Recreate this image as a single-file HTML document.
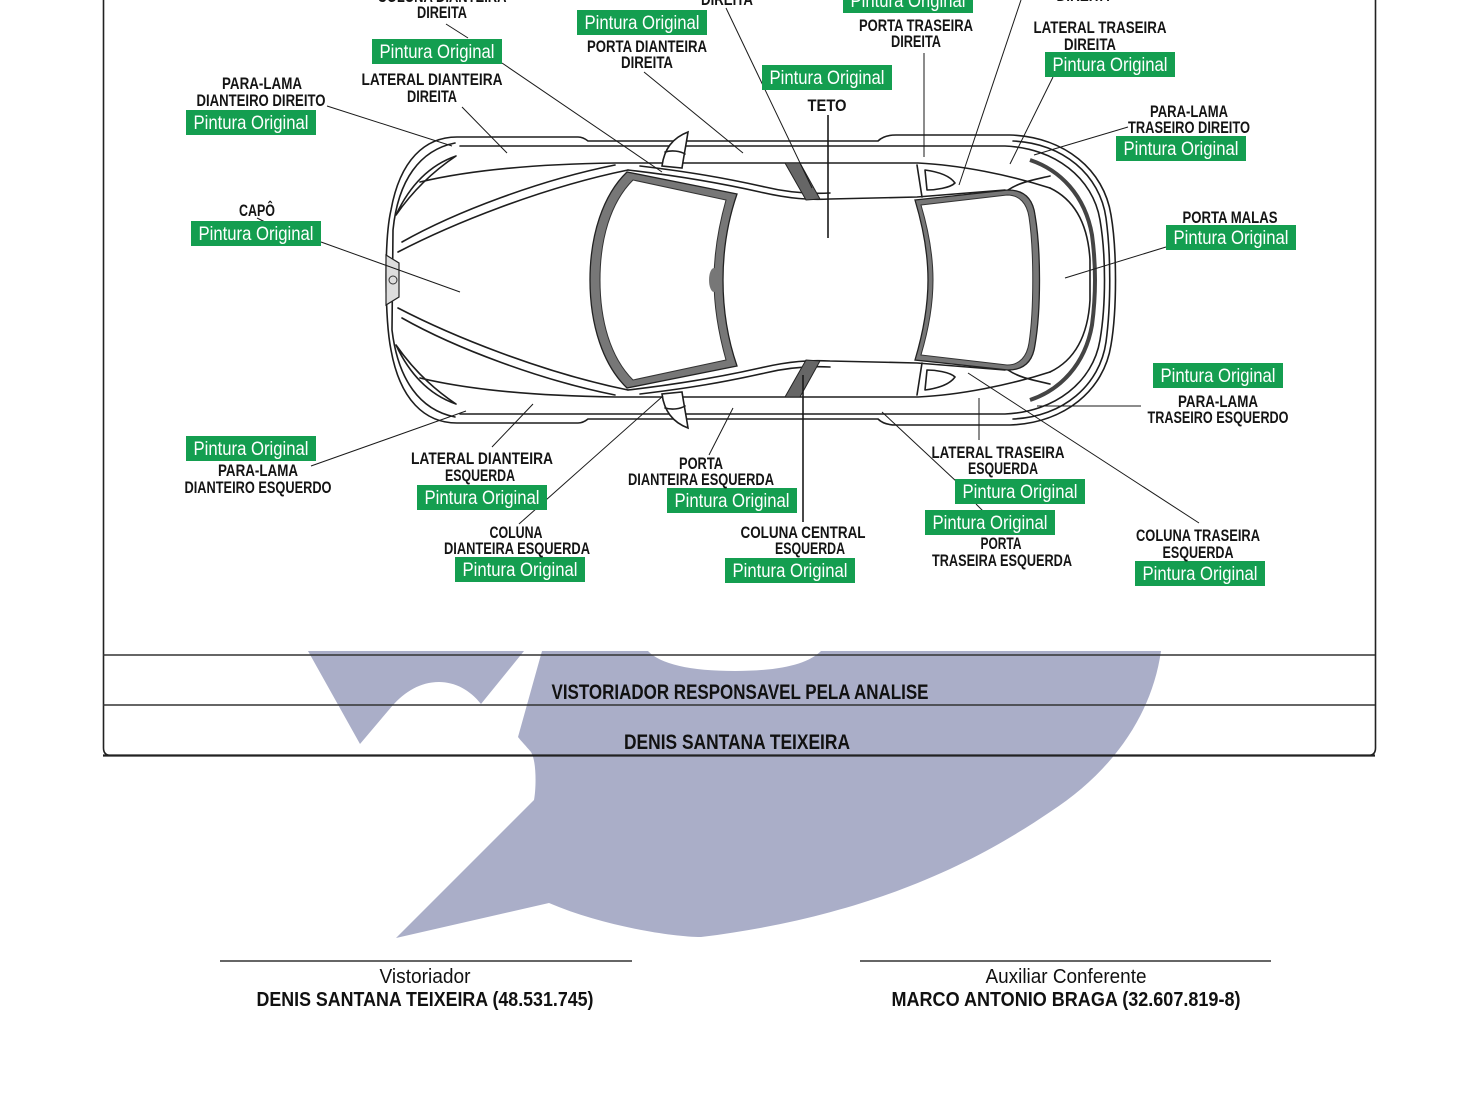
<!DOCTYPE html>
<html>
<head>
<meta charset="utf-8">
<style>
  html,body{margin:0;padding:0;background:#fff;}
  svg{display:block;}
  .lbl{font-family:"Liberation Sans",Arial,sans-serif;font-weight:bold;font-size:17px;fill:#141414;}
  .gt{font-family:"Liberation Sans",Arial,sans-serif;font-size:19px;fill:#fff;}
  .gb{fill:#149e50;}
  .ld{stroke:#1a1a1a;stroke-width:1;fill:none;}
  .car{stroke:#1e1e1e;stroke-width:1.6;fill:none;stroke-linejoin:round;stroke-linecap:round;}
  .carw{stroke:#1e1e1e;stroke-width:1.6;fill:#fff;}
  .big{font-family:"Liberation Sans",Arial,sans-serif;font-weight:bold;font-size:21px;fill:#111;}
  .sig{font-family:"Liberation Sans",Arial,sans-serif;font-size:20px;fill:#111;}
  .sigb{font-family:"Liberation Sans",Arial,sans-serif;font-weight:bold;font-size:20px;fill:#111;}
</style>
</head>
<body>
<svg width="1460" height="1100" viewBox="0 0 1460 1100" xmlns="http://www.w3.org/2000/svg">
  <rect x="0" y="0" width="1460" height="1100" fill="#fff"/>

  <!-- ============ WATERMARK ============ -->
  <g fill="#aaaec8">
    <path d="M 308,651 L 524,651 L 481,704 C 470,690 455,682 439,682 C 420,682 405,692 393,705 L 360,744 Z"/>
    <path d="M 542,651 L 648,651 C 660,664 690,671 735,671 C 780,671 808,664 821,651 L 1161,651
             C 1152,715 1112,772 1050,812 C 985,856 880,915 701,937
             C 670,937 600,925 549,903 L 396,938 L 534,800
             C 536,790 537,762 531,752 C 526,746 521,741 518,737 Z"/>
  </g>

  <!-- ============ FRAME ============ -->
  <path d="M 103.5,0 L 103.5,748 Q 103.5,755.5 111,755.5 L 1368,755.5 Q 1375.5,755.5 1375.5,748 L 1375.5,0" fill="none" stroke="#222" stroke-width="1.6"/>
  <line x1="103" y1="755.5" x2="1375" y2="755.5" stroke="#222" stroke-width="2.2"/>
  <line x1="103" y1="655" x2="1375" y2="655" stroke="#333" stroke-width="1.5"/>
  <line x1="103" y1="705" x2="1375" y2="705" stroke="#333" stroke-width="1.5"/>

  <text class="big" x="740" y="699" text-anchor="middle" textLength="377" lengthAdjust="spacingAndGlyphs">VISTORIADOR RESPONSAVEL PELA ANALISE</text>
  <text class="big" x="737" y="749" text-anchor="middle" textLength="226" lengthAdjust="spacingAndGlyphs">DENIS SANTANA TEIXEIRA</text>

  <!-- ============ CAR ============ -->
  <path class="carw" d="M 457,137 L 578,137 Q 583,137 588,141 L 878,141 Q 884,135 896,135 L 1010,135
      C 1065,137 1104,170 1111,215 C 1117,250 1117,310 1111,345 C 1104,390 1065,423 1010,425
      L 896,425 Q 884,425 878,419 L 588,419 Q 583,423 578,423 L 457,423
      C 425,423 400,400 391,350 C 385,320 384,240 391,210 C 400,160 425,137 457,137 Z"/>
  <path class="car" d="M 460,146 L 1005,146 C 1055,148 1093,178 1100,220 C 1106,255 1106,305 1100,340 C 1093,382 1055,412 1005,414 L 460,414" stroke-width="1.3"/>
  <path class="car" d="M 1013,141 C 1063,143 1100,175 1106,218 C 1111,255 1111,305 1106,342 C 1100,385 1063,417 1013,419" stroke-width="1.1"/>
  <path d="M 1030,160 C 1060,170 1085,195 1092,235 C 1096,265 1096,295 1092,325 C 1085,365 1060,390 1030,400" fill="none" stroke="#444" stroke-width="4"/>
  <path class="car" d="M 1050,188 C 1075,200 1088,225 1090,260 L 1090,300 C 1088,335 1075,360 1050,372" stroke-width="1.1"/>
  <path class="car" d="M 455,143 C 420,150 398,180 393,230 L 392,330 C 398,380 420,410 455,417" stroke-width="1.2"/>
  <path class="car" d="M 456,156 C 430,165 410,185 396,215 C 412,192 432,172 456,156 Z" stroke-width="1.3"/>
  <path class="car" d="M 456,404 C 430,395 410,375 396,345 C 412,368 432,388 456,404 Z" stroke-width="1.3"/>
  <path class="car" d="M 398,252 C 450,225 540,188 628,170"/>
  <path class="car" d="M 402,242 C 455,212 540,180 615,165"/>
  <path class="car" d="M 398,308 C 450,335 540,372 628,390"/>
  <path class="car" d="M 402,318 C 455,348 540,380 615,395"/>
  <path class="car" d="M 420,182 C 470,170 540,164 615,163 L 918,163 C 960,165 1010,175 1050,188"/>
  <path class="car" d="M 420,378 C 470,390 540,396 615,397 L 918,397 C 960,395 1010,385 1050,372"/>
  <path class="car" d="M 628,170 C 680,176 720,183 760,192 C 790,199 810,200 830,199 L 917,197 L 1005,190"/>
  <path class="car" d="M 640,166 C 690,172 725,178 765,187 C 790,193 810,194 830,193" stroke-width="1.1"/>
  <path class="car" d="M 628,390 C 680,384 720,377 760,368 C 790,361 810,360 830,361 L 917,363 L 1005,370"/>
  <path class="car" d="M 640,394 C 690,388 725,382 765,373 C 790,367 810,366 830,367" stroke-width="1.1"/>
  <path d="M 785,163 L 800,163 L 820,199 L 806,200 Z" fill="#666" stroke="#222" stroke-width="1"/>
  <path d="M 785,397 L 800,397 L 820,361 L 806,360 Z" fill="#666" stroke="#222" stroke-width="1"/>
  <path class="car" d="M 917,165 L 922,197"/>
  <path class="car" d="M 925,170 C 940,172 950,176 955,183 C 950,188 935,190 927,190 Z" stroke-width="1.2"/>
  <path class="car" d="M 917,395 L 922,363"/>
  <path class="car" d="M 925,390 C 940,388 950,384 955,377 C 950,372 935,370 927,370 Z" stroke-width="1.2"/>
  <path class="car" d="M 1008,190 C 1020,182 1033,180 1050,176" stroke-width="1.1"/>
  <path class="car" d="M 1008,370 C 1020,378 1033,380 1050,384" stroke-width="1.1"/>
  <path class="carw" d="M 662,166 C 664,150 672,138 688,132 C 686,145 684,155 682,168 Z" stroke-width="1.3"/>
  <path class="car" d="M 665,152 C 672,150 680,151 685,154" stroke-width="1"/>
  <path class="carw" d="M 662,394 C 664,410 672,422 688,428 C 686,415 684,405 682,392 Z" stroke-width="1.3"/>
  <path class="car" d="M 665,408 C 672,410 680,409 685,406" stroke-width="1"/>
  <!-- windshield -->
  <path d="M 627,172 C 603,195 590,235 590,280 C 590,325 603,365 627,388 L 737,366 C 728,340 723,310 723,280 C 723,250 728,220 737,194 Z" fill="#777" stroke="#222" stroke-width="1.3"/>
  <path d="M 633,180 C 610,203 600,240 600,280 C 600,320 610,357 633,380 L 726,360 C 719,335 714,308 714,280 C 714,252 719,225 726,200 Z" fill="#fff" stroke="#333" stroke-width="1"/>
  <ellipse cx="714" cy="280" rx="5" ry="12" fill="#777"/>
  <!-- rear window -->
  <path d="M 915,200 L 1008,190 C 1025,190 1033,200 1035,215 C 1041,250 1041,310 1035,345 C 1033,360 1025,370 1008,370 L 915,360 C 924,330 928,305 928,280 C 928,255 924,230 915,200 Z" fill="#777" stroke="#222" stroke-width="1.3"/>
  <path d="M 921,205 L 1007,195 C 1020,195 1027,204 1029,217 C 1034,250 1034,310 1029,343 C 1027,356 1020,365 1007,365 L 921,355 C 929,328 933,305 933,280 C 933,255 929,232 921,205 Z" fill="#fff" stroke="#333" stroke-width="1"/>
  <path d="M 386,255 L 399,263 L 399,297 L 386,305 Z" fill="#ddd" stroke="#222" stroke-width="1.2"/>
  <circle cx="393" cy="280" r="4" fill="none" stroke="#333" stroke-width="1"/>

  <!-- ============ LEADER LINES ============ -->
  <g class="ld">
    <line x1="446" y1="24" x2="468" y2="38"/>
    <line x1="502" y1="63" x2="662" y2="172"/>
    <line x1="327" y1="106" x2="452" y2="146"/>
    <line x1="462" y1="107" x2="507" y2="153"/>
    <line x1="644" y1="72" x2="743" y2="153"/>
    <line x1="726" y1="8" x2="812" y2="188"/>
    <line x1="828" y1="115" x2="828" y2="238" stroke-width="1.6"/>
    <line x1="924" y1="53" x2="924" y2="157"/>
    <line x1="1021" y1="0" x2="959" y2="185"/>
    <line x1="1053" y1="77" x2="1010" y2="164"/>
    <line x1="1128" y1="127" x2="1034" y2="155"/>
    <line x1="1166" y1="247" x2="1065" y2="278"/>
    <line x1="257" y1="218" x2="265" y2="222"/>
    <line x1="321" y1="242" x2="460" y2="292"/>
    <line x1="1037" y1="406" x2="1141" y2="406"/>
    <line x1="1199" y1="523" x2="968" y2="373"/>
    <line x1="979" y1="398" x2="979" y2="440"/>
    <line x1="882" y1="412" x2="957" y2="482"/>
    <line x1="976" y1="504" x2="983" y2="511"/>
    <line x1="803" y1="375" x2="803" y2="522" stroke-width="1.6"/>
    <line x1="733" y1="408" x2="709" y2="455"/>
    <line x1="519" y1="524" x2="663" y2="396"/>
    <line x1="492" y1="447" x2="533" y2="404"/>
    <line x1="311" y1="466" x2="466" y2="411"/>
  </g>

  <!-- ============ GREEN TAGS ============ -->
  <g>
    <rect class="gb" x="372" y="39" width="130" height="25"/><text class="gt" x="437" y="58" text-anchor="middle" textLength="115" lengthAdjust="spacingAndGlyphs">Pintura Original</text>
    <rect class="gb" x="186" y="110" width="130" height="25"/><text class="gt" x="251" y="129" text-anchor="middle" textLength="115" lengthAdjust="spacingAndGlyphs">Pintura Original</text>
    <rect class="gb" x="191" y="221" width="130" height="25"/><text class="gt" x="256" y="240" text-anchor="middle" textLength="115" lengthAdjust="spacingAndGlyphs">Pintura Original</text>
    <rect class="gb" x="577" y="10" width="130" height="25"/><text class="gt" x="642" y="29" text-anchor="middle" textLength="115" lengthAdjust="spacingAndGlyphs">Pintura Original</text>
    <rect class="gb" x="843" y="-12" width="130" height="25"/><text class="gt" x="908" y="7" text-anchor="middle" textLength="115" lengthAdjust="spacingAndGlyphs">Pintura Original</text>
    <rect class="gb" x="762" y="65" width="130" height="25"/><text class="gt" x="827" y="84" text-anchor="middle" textLength="115" lengthAdjust="spacingAndGlyphs">Pintura Original</text>
    <rect class="gb" x="1045" y="52" width="130" height="25"/><text class="gt" x="1110" y="71" text-anchor="middle" textLength="115" lengthAdjust="spacingAndGlyphs">Pintura Original</text>
    <rect class="gb" x="1116" y="136" width="130" height="25"/><text class="gt" x="1181" y="155" text-anchor="middle" textLength="115" lengthAdjust="spacingAndGlyphs">Pintura Original</text>
    <rect class="gb" x="1166" y="225" width="130" height="25"/><text class="gt" x="1231" y="244" text-anchor="middle" textLength="115" lengthAdjust="spacingAndGlyphs">Pintura Original</text>
    <rect class="gb" x="1153" y="363" width="130" height="25"/><text class="gt" x="1218" y="382" text-anchor="middle" textLength="115" lengthAdjust="spacingAndGlyphs">Pintura Original</text>
    <rect class="gb" x="955" y="479" width="130" height="25"/><text class="gt" x="1020" y="498" text-anchor="middle" textLength="115" lengthAdjust="spacingAndGlyphs">Pintura Original</text>
    <rect class="gb" x="925" y="510" width="130" height="25"/><text class="gt" x="990" y="529" text-anchor="middle" textLength="115" lengthAdjust="spacingAndGlyphs">Pintura Original</text>
    <rect class="gb" x="667" y="488" width="130" height="25"/><text class="gt" x="732" y="507" text-anchor="middle" textLength="115" lengthAdjust="spacingAndGlyphs">Pintura Original</text>
    <rect class="gb" x="725" y="558" width="130" height="25"/><text class="gt" x="790" y="577" text-anchor="middle" textLength="115" lengthAdjust="spacingAndGlyphs">Pintura Original</text>
    <rect class="gb" x="1135" y="561" width="130" height="25"/><text class="gt" x="1200" y="580" text-anchor="middle" textLength="115" lengthAdjust="spacingAndGlyphs">Pintura Original</text>
    <rect class="gb" x="186" y="436" width="130" height="25"/><text class="gt" x="251" y="455" text-anchor="middle" textLength="115" lengthAdjust="spacingAndGlyphs">Pintura Original</text>
    <rect class="gb" x="417" y="485" width="130" height="25"/><text class="gt" x="482" y="504" text-anchor="middle" textLength="115" lengthAdjust="spacingAndGlyphs">Pintura Original</text>
    <rect class="gb" x="455" y="557" width="130" height="25"/><text class="gt" x="520" y="576" text-anchor="middle" textLength="115" lengthAdjust="spacingAndGlyphs">Pintura Original</text>
  </g>

  <!-- ============ BLACK LABELS ============ -->
  <g class="lbl" text-anchor="middle">
    <text x="442" y="2" textLength="129" lengthAdjust="spacingAndGlyphs">COLUNA DIANTEIRA</text>
    <text x="442" y="18" textLength="50" lengthAdjust="spacingAndGlyphs">DIREITA</text>
    <text x="262" y="89" textLength="80" lengthAdjust="spacingAndGlyphs">PARA-LAMA</text>
    <text x="261" y="106" textLength="129" lengthAdjust="spacingAndGlyphs">DIANTEIRO DIREITO</text>
    <text x="432" y="85" textLength="141" lengthAdjust="spacingAndGlyphs">LATERAL DIANTEIRA</text>
    <text x="432" y="102" textLength="50" lengthAdjust="spacingAndGlyphs">DIREITA</text>
    <text x="257" y="216" textLength="36" lengthAdjust="spacingAndGlyphs">CAPÔ</text>
    <text x="647" y="52" textLength="120" lengthAdjust="spacingAndGlyphs">PORTA DIANTEIRA</text>
    <text x="647" y="68" textLength="52" lengthAdjust="spacingAndGlyphs">DIREITA</text>
    <text x="727" y="5" textLength="52" lengthAdjust="spacingAndGlyphs">DIREITA</text>
    <text x="916" y="31" textLength="114" lengthAdjust="spacingAndGlyphs">PORTA TRASEIRA</text>
    <text x="916" y="47" textLength="50" lengthAdjust="spacingAndGlyphs">DIREITA</text>
    <text x="827" y="111" textLength="39" lengthAdjust="spacingAndGlyphs">TETO</text>
    <text x="1100" y="33" textLength="133" lengthAdjust="spacingAndGlyphs">LATERAL TRASEIRA</text>
    <text x="1090" y="50" textLength="52" lengthAdjust="spacingAndGlyphs">DIREITA</text>
    <text x="1083" y="1" textLength="53" lengthAdjust="spacingAndGlyphs">DIREITA</text>
    <text x="1189" y="117" textLength="78" lengthAdjust="spacingAndGlyphs">PARA-LAMA</text>
    <text x="1189" y="133" textLength="122" lengthAdjust="spacingAndGlyphs">TRASEIRO DIREITO</text>
    <text x="1230" y="223" textLength="95" lengthAdjust="spacingAndGlyphs">PORTA MALAS</text>
    <text x="1218" y="407" textLength="80" lengthAdjust="spacingAndGlyphs">PARA-LAMA</text>
    <text x="1218" y="423" textLength="141" lengthAdjust="spacingAndGlyphs">TRASEIRO ESQUERDO</text>
    <text x="998" y="458" textLength="133" lengthAdjust="spacingAndGlyphs">LATERAL TRASEIRA</text>
    <text x="1003" y="474" textLength="70" lengthAdjust="spacingAndGlyphs">ESQUERDA</text>
    <text x="1001" y="549" textLength="41" lengthAdjust="spacingAndGlyphs">PORTA</text>
    <text x="1002" y="566" textLength="140" lengthAdjust="spacingAndGlyphs">TRASEIRA ESQUERDA</text>
    <text x="701" y="469" textLength="44" lengthAdjust="spacingAndGlyphs">PORTA</text>
    <text x="701" y="485" textLength="146" lengthAdjust="spacingAndGlyphs">DIANTEIRA ESQUERDA</text>
    <text x="803" y="538" textLength="125" lengthAdjust="spacingAndGlyphs">COLUNA CENTRAL</text>
    <text x="810" y="554" textLength="70" lengthAdjust="spacingAndGlyphs">ESQUERDA</text>
    <text x="1198" y="541" textLength="124" lengthAdjust="spacingAndGlyphs">COLUNA TRASEIRA</text>
    <text x="1198" y="558" textLength="71" lengthAdjust="spacingAndGlyphs">ESQUERDA</text>
    <text x="258" y="476" textLength="80" lengthAdjust="spacingAndGlyphs">PARA-LAMA</text>
    <text x="258" y="493" textLength="147" lengthAdjust="spacingAndGlyphs">DIANTEIRO ESQUERDO</text>
    <text x="482" y="464" textLength="142" lengthAdjust="spacingAndGlyphs">LATERAL DIANTEIRA</text>
    <text x="480" y="481" textLength="70" lengthAdjust="spacingAndGlyphs">ESQUERDA</text>
    <text x="516" y="538" textLength="53" lengthAdjust="spacingAndGlyphs">COLUNA</text>
    <text x="517" y="554" textLength="146" lengthAdjust="spacingAndGlyphs">DIANTEIRA ESQUERDA</text>
  </g>

  <!-- ============ SIGNATURES ============ -->
  <line x1="220" y1="961" x2="632" y2="961" stroke="#333" stroke-width="1.5"/>
  <line x1="860" y1="961" x2="1271" y2="961" stroke="#333" stroke-width="1.5"/>
  <text class="sig" x="425" y="983" text-anchor="middle" textLength="91" lengthAdjust="spacingAndGlyphs">Vistoriador</text>
  <text class="sigb" x="425" y="1006" text-anchor="middle" textLength="337" lengthAdjust="spacingAndGlyphs">DENIS SANTANA TEIXEIRA (48.531.745)</text>
  <text class="sig" x="1066" y="983" text-anchor="middle" textLength="161" lengthAdjust="spacingAndGlyphs">Auxiliar Conferente</text>
  <text class="sigb" x="1066" y="1006" text-anchor="middle" textLength="349" lengthAdjust="spacingAndGlyphs">MARCO ANTONIO BRAGA (32.607.819-8)</text>
</svg>
</body>
</html>
